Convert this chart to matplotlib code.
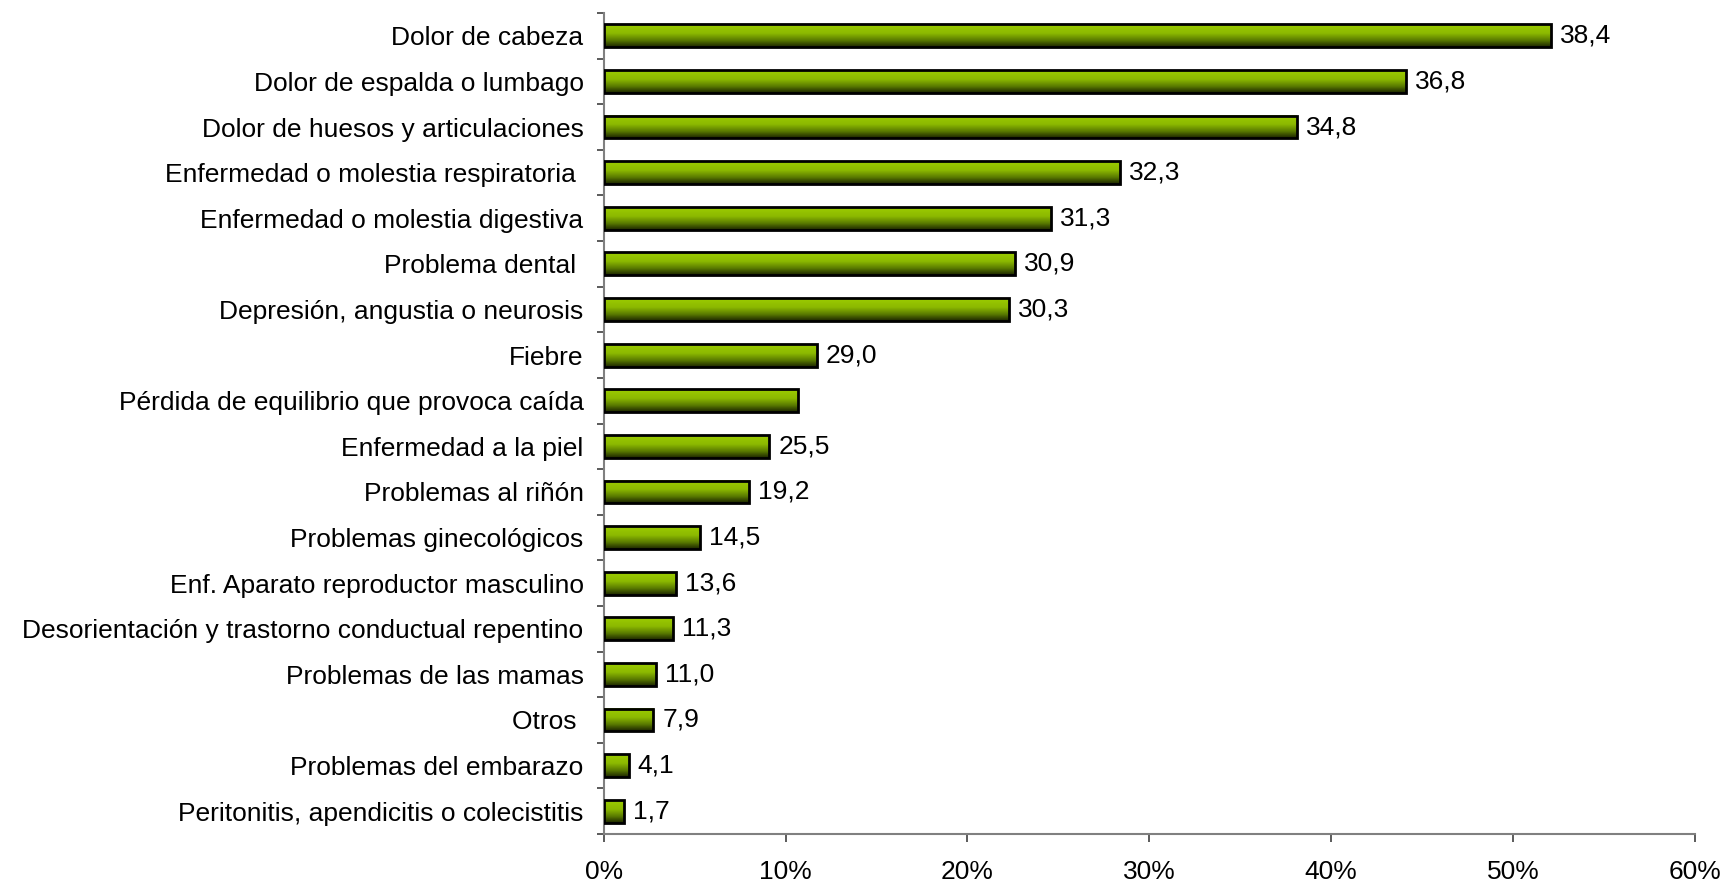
import matplotlib
matplotlib.use("Agg")
import matplotlib.pyplot as plt
import numpy as np
from matplotlib.colors import LinearSegmentedColormap
from matplotlib.ticker import FixedLocator, PercentFormatter

plt.rcParams['font.family'] = ['Liberation Sans', 'DejaVu Sans']

# categories, top to bottom
categorias = [
    "Dolor de cabeza",
    "Dolor de espalda o lumbago",
    "Dolor de huesos y articulaciones",
    "Enfermedad o molestia respiratoria ",
    "Enfermedad o molestia digestiva",
    "Problema dental ",
    "Depresión, angustia o neurosis",
    "Fiebre",
    "Pérdida de equilibrio que provoca caída",
    "Enfermedad a la piel",
    "Problemas al riñón",
    "Problemas ginecológicos",
    "Enf. Aparato reproductor masculino",
    "Desorientación y trastorno conductual repentino",
    "Problemas de las mamas",
    "Otros ",
    "Problemas del embarazo",
    "Peritonitis, apendicitis o colecistitis",
]
# bar lengths (%)
porcentajes = [52.1, 44.1, 38.1, 28.4, 24.6, 22.6, 22.3, 11.7, 10.7, 9.1,
               8.0, 5.3, 3.96, 3.83, 2.88, 2.73, 1.37, 1.12]
# data labels as printed in the chart (none on one bar)
etiquetas = ["38,4", "36,8", "34,8", "32,3", "31,3", "30,9", "30,3", "29,0", None,
             "25,5", "19,2", "14,5", "13,6", "11,3", "11,0", "7,9", "4,1", "1,7"]

fs = 19
alto = 0.5
verde = LinearSegmentedColormap.from_list(
    "verde", [(0, "#9ccc00"), (0.4, "#8cb900"), (0.7, "#5b7c00"), (1, "#1c2600")])
grad = np.linspace(0, 1, 64).reshape(-1, 1)

fig = plt.figure(figsize=(17.25, 8.85), dpi=100)
ax = fig.add_axes([0.35, 0.0576, 0.6326, 0.9277])

y = np.arange(len(categorias))
for yi, v in zip(y, porcentajes):
    ax.imshow(grad, cmap=verde, aspect='auto', interpolation='bilinear',
              extent=[0, v, yi + alto / 2, yi - alto / 2], zorder=2)
ax.barh(y, porcentajes, height=alto, facecolor='none', edgecolor='black',
        linewidth=2, zorder=3)

for yi, v, t in zip(y, porcentajes, etiquetas):
    if t:
        ax.annotate(t, (v, yi), xytext=(6.5, 0), textcoords='offset points',
                    va='center', ha='left', fontsize=fs)

ax.set_xlim(0, 60)
ax.set_ylim(len(categorias) - 0.5, -0.5)
ax.set_xticks(np.arange(0, 61, 10))
ax.xaxis.set_major_formatter(PercentFormatter(decimals=0))
ax.set_yticks(y)
ax.set_yticklabels(categorias, fontsize=fs)
ax.yaxis.set_minor_locator(FixedLocator(np.arange(-0.5, len(categorias), 1)))
ax.tick_params(axis='y', which='major', length=0, pad=14.5)
ax.tick_params(axis='y', which='minor', length=5, width=1.2, color='#404040')
ax.tick_params(axis='x', length=6, width=1.2, color='#404040', labelsize=fs, pad=12.5)

for s in ['top', 'right']:
    ax.spines[s].set_visible(False)
for s in ['left', 'bottom']:
    ax.spines[s].set_color('#808080')
    ax.spines[s].set_linewidth(1.5)

fig.savefig("out.png", dpi=100)
